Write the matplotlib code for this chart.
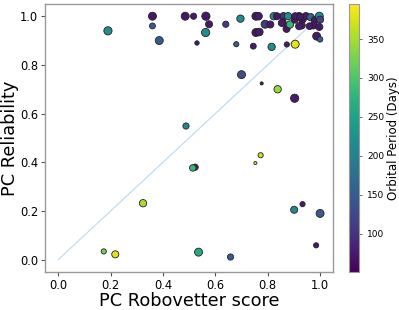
import matplotlib
matplotlib.use("Agg")
import matplotlib.pyplot as plt
import numpy as np

# PC Robovetter score
score = [0.36, 0.36, 0.19, 0.386, 0.485, 0.517, 0.564, 0.576, 0.563, 0.53,
         0.64, 0.696, 0.68, 0.70, 0.755, 0.765, 0.79, 0.755, 0.768, 0.745,
         0.815, 0.873, 0.905, 0.823, 0.86, 0.878, 0.857, 0.872, 0.885, 0.904,
         0.92, 0.933, 0.93, 0.946, 0.964, 0.98, 0.997, 1.0, 0.975, 0.997,
         0.96, 0.987, 1.0, 0.81, 0.854, 0.92, 0.835, 0.905, 0.924,
         0.777, 0.838, 0.903, 0.488, 0.773, 0.753, 0.523, 0.514,
         0.324, 0.174, 0.218, 0.536, 0.658, 0.901, 0.933, 1.0, 0.985]
# PC Reliability
reliab = [1.0, 0.96, 0.94, 0.90, 1.0, 1.0, 1.0, 0.967, 0.933, 0.89,
          0.967, 0.99, 0.885, 0.76, 1.0, 1.0, 0.967, 0.933, 0.935, 0.877,
          0.874, 0.884, 0.885, 1.0, 1.0, 1.0, 0.975, 0.948, 0.966, 0.986,
          1.0, 0.986, 0.962, 1.0, 0.996, 0.984, 1.0, 0.986, 0.962, 0.956,
          0.959, 0.918, 0.905, 0.966, 0.972, 0.959, 1.0, 1.0, 0.997,
          0.724, 0.70, 0.663, 0.549, 0.429, 0.397, 0.38, 0.377,
          0.232, 0.034, 0.022, 0.031, 0.011, 0.205, 0.228, 0.19, 0.059]
# Orbital period (days)
period = [70, 150, 220, 150, 70, 75, 70, 75, 220, 75,
          110, 220, 150, 130, 70, 75, 110, 70, 75, 75,
          220, 75, 380, 220, 100, 220, 75, 70, 280, 75,
          75, 70, 75, 75, 160, 75, 220, 120, 75, 70,
          75, 75, 150, 75, 75, 75, 70, 75, 70,
          70, 340, 75, 210, 370, 380, 75, 280,
          350, 320, 380, 260, 150, 210, 75, 150, 75]
# marker sizes (pt^2)
sizes = [33, 18, 35, 33, 33, 20, 35, 26, 35, 10,
         20, 28, 14, 33, 33, 30, 33, 33, 30, 18,
         28, 14, 33, 28, 28, 28, 26, 26, 28, 26,
         28, 26, 26, 28, 28, 26, 33, 26, 26, 26,
         24, 33, 16, 26, 26, 26, 26, 26, 26,
         5, 28, 35, 20, 14, 5, 20, 22,
         28, 14, 26, 33, 20, 26, 14, 33, 14]

fig = plt.figure(figsize=(3.99, 3.10), dpi=100)
ax = fig.add_axes([0.113, 0.123, 0.722, 0.864])
cax = fig.add_axes([0.875, 0.123, 0.026, 0.864])

ax.plot([0, 1], [0, 1], color="#bcd9ee", lw=0.8, zorder=1)
sc = ax.scatter(score, reliab, c=period, s=sizes, cmap="viridis",
                vmin=51, vmax=395, edgecolors="#222222", linewidths=0.6, zorder=2)

ax.set_xlim(-0.05, 1.05)
ax.set_ylim(-0.05, 1.05)
ax.set_xticks([0.0, 0.2, 0.4, 0.6, 0.8, 1.0])
ax.set_yticks([0.0, 0.2, 0.4, 0.6, 0.8, 1.0])
ax.tick_params(labelsize=8.3, length=3, width=0.8, color="#555555", pad=2)
for sp in ax.spines.values():
    sp.set_color("#999999")
    sp.set_linewidth(1.0)

ax.set_xlabel("PC Robovetter score", fontsize=12.8, va="baseline")
ax.xaxis.set_label_coords(0.5, -0.126)
ax.set_ylabel("PC Reliability", fontsize=12.8, va="baseline")
ax.yaxis.set_label_coords(-0.105, 0.5)

cb = fig.colorbar(sc, cax=cax)
cb.set_ticks([100, 150, 200, 250, 300, 350])
cb.ax.tick_params(labelsize=6.5, length=2, width=0.6, color="#555555")
cb.outline.set_edgecolor("#999999")
cb.set_label("Orbital Period (Days)", fontsize=8.5, labelpad=2)

fig.savefig("out.png", dpi=100)
